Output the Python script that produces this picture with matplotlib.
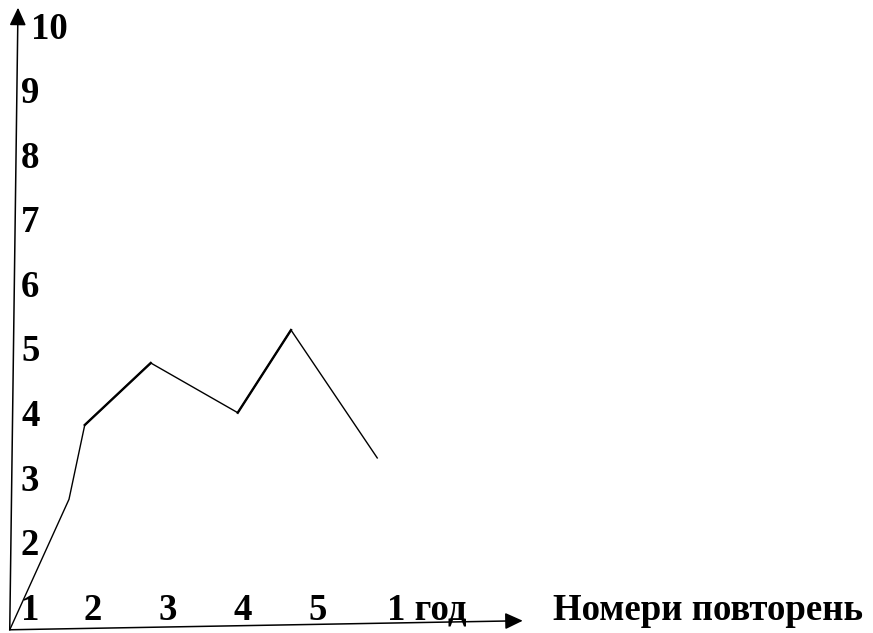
import matplotlib
matplotlib.use('Agg')
import matplotlib.pyplot as plt

# values (x in repetition units, y in score units)
rep_x = [0.89, 1.68, 1.89, 2.77, 3.93, 4.64, 5.79]
rep_y = [0.70, 2.72, 3.87, 4.83, 4.06, 5.34, 3.36]

y_labels = [1, 2, 3, 4, 5, 6, 7, 8, 9, 10]
x_tick_pos = [2, 3, 4, 5, 6.45]
x_tick_labels = ['2', '3', '4', '5', '1 год']
x_title = 'Номери повторень'


def main():
    plt.rcParams['font.family'] = ['Liberation Serif', 'DejaVu Serif']

    fig = plt.figure(figsize=(8.73, 6.33), dpi=100)
    ax = fig.add_axes([0, 0, 1, 1])
    ax.set_xlim(0.76, 12.4)
    ax.set_ylim(0.65, 10.449)
    ax.axis('off')

    font = dict(fontsize=26.5, fontweight='bold', color='black')

    # hand-drawn axes with arrows, slightly tilted like the original
    origin = (rep_x[0], rep_y[0])
    arrow = dict(arrowstyle='-|>,head_length=0.9,head_width=0.42',
                 mutation_scale=12, lw=1.1, color='black',
                 shrinkA=0, shrinkB=0)
    ax.annotate('', xy=(1.0, 10.33), xytext=origin, arrowprops=arrow)
    ax.annotate('', xy=(7.73, 0.84), xytext=origin, arrowprops=arrow)

    # y labels
    for v in y_labels:
        xpos = 1.17 if v == 10 else 1.04
        ax.text(xpos, v, str(v), ha='left', va='center', **font)

    # x labels
    for pos, lab in zip(x_tick_pos, x_tick_labels):
        ax.text(pos, 1.0, lab, ha='center', va='center', **font)
    ax.text(8.13, 1.0, x_title, ha='left', va='center', **font)

    ax.plot(rep_x, rep_y, color='black', lw=1.0)
    # a couple of segments were drawn a bit heavier in the original
    ax.plot(rep_x[2:4], rep_y[2:4], color='black', lw=1.7)
    ax.plot(rep_x[4:6], rep_y[4:6], color='black', lw=1.7)

    fig.savefig('out.png', dpi=100)


if __name__ == '__main__':
    main()
